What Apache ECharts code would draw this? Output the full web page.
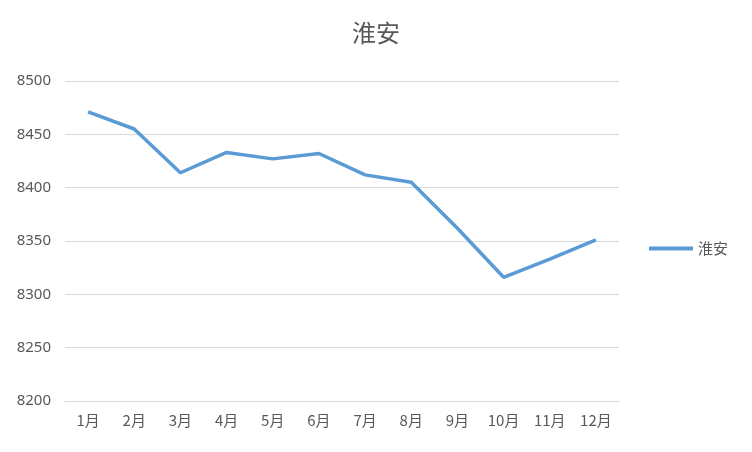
<!DOCTYPE html>
<html><head><meta charset="utf-8">
<script src="https://cdn.jsdelivr.net/npm/echarts@6/dist/echarts.min.js"></script>
<style>html,body{margin:0;padding:0;background:#fff}#c{width:752px;height:452px}</style>
</head><body><div id="c"></div>
<script>
const categories = ['1月','2月','3月','4月','5月','6月','7月','8月','9月','10月','11月','12月'];
const values = [8471,8455,8414,8433,8427,8432,8412,8405,8362,8316,8333,8351];
const seriesName = '淮安';
const chart = echarts.init(document.getElementById('c'));
chart.setOption({
  animation:false,
  backgroundColor:'#fff',
  title:{text:seriesName,left:'center',top:16,textStyle:{fontFamily:'Noto Sans CJK SC',fontSize:24,fontWeight:'normal',color:'#595959'}},
  legend:{orient:'vertical',left:644,top:236,itemWidth:44,itemHeight:4,itemGap:6,icon:'rect',textStyle:{fontFamily:'Noto Sans CJK SC',fontSize:15,color:'#595959'},data:[seriesName]},
  grid:{left:65,right:133,top:81,bottom:51},
  xAxis:{type:'category',data:categories,boundaryGap:true,
    axisLine:{lineStyle:{color:'#d9d9d9'}},axisTick:{show:false},
    axisLabel:{fontFamily:'Noto Sans CJK SC',fontSize:15,color:'#595959',margin:12}},
  yAxis:{type:'value',min:8200,max:8500,interval:50,
    axisLine:{show:false},axisTick:{show:false},
    splitLine:{lineStyle:{color:'#d9d9d9'}},
    axisLabel:{fontFamily:'Noto Sans',fontSize:15,color:'#595959',margin:14,formatter:v=>String(v)}},
  series:[{name:seriesName,type:'line',data:values,symbol:'none',
    lineStyle:{color:'#5b9bd5',width:3.5},itemStyle:{color:'#5b9bd5'}}]
});
</script></body></html>
